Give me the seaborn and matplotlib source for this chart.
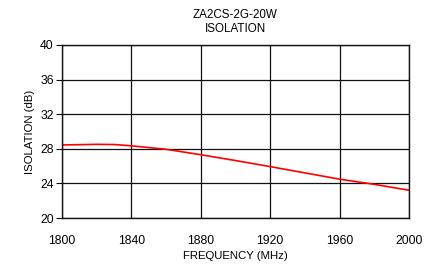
import numpy as np
import pandas as pd
import matplotlib
matplotlib.use('Agg')
import matplotlib.pyplot as plt
import seaborn as sns

# Isolation vs frequency
freq_mhz = [1800, 1820, 1830, 1840, 1860, 1880, 1900, 1920, 1940, 1960, 1980, 2000]
isolation_db = [28.45, 28.52, 28.5, 28.35, 27.95, 27.32, 26.65, 25.95, 25.22, 24.5, 23.9, 23.22]

x_ticks = [1800, 1840, 1880, 1920, 1960, 2000]
y_ticks = [20, 24, 28, 32, 36, 40]

sns.set_theme(style='white')
plt.rcParams['font.family'] = ['Liberation Sans', 'DejaVu Sans']
plt.rcParams['text.color'] = 'black'
plt.rcParams['axes.labelcolor'] = 'black'
plt.rcParams['xtick.color'] = 'black'
plt.rcParams['ytick.color'] = 'black'

df = pd.DataFrame({'freq': freq_mhz, 'iso': isolation_db})

fig = plt.figure(figsize=(4.37, 2.66), dpi=100)
ax = fig.add_axes([0.142, 0.180, 0.794, 0.651])

sns.lineplot(data=df, x='freq', y='iso', ax=ax, color='#ff0000', linewidth=1.2)

ax.set_xlim(1800, 2000)
ax.set_ylim(20, 40)
ax.set_xticks(x_ticks)
ax.set_yticks(y_ticks)
ax.grid(True, color='#111111', linewidth=0.9)
for s in ax.spines.values():
    s.set_color('#111111')
    s.set_linewidth(1.0)
ax.tick_params(axis='y', left=True, length=4, width=0.8, color='#111111',
               labelsize=8.8, pad=2)
ax.tick_params(axis='x', bottom=False, labelsize=8.8, pad=6)

ax.set_xlabel('FREQUENCY (MHz)', fontsize=8.2, labelpad=3)
ax.set_ylabel('ISOLATION (dB)', fontsize=8.2, labelpad=4)
ax.set_title('ZA2CS-2G-20W\nISOLATION', fontsize=8.4, pad=9, linespacing=1.25)

fig.savefig('out.png', dpi=100, facecolor='white')
